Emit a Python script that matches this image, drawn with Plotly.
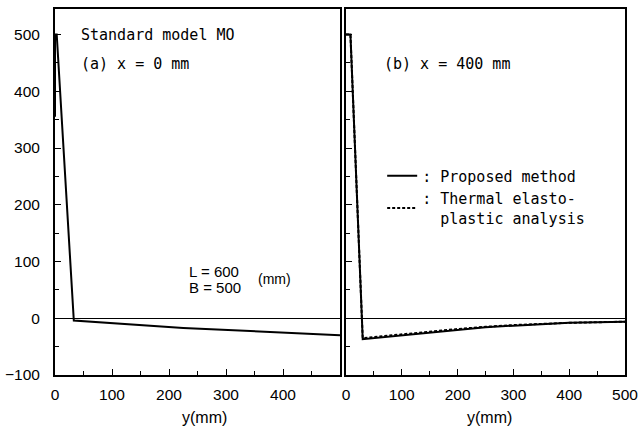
import plotly.graph_objects as go

# ---- data ----
y_a = [0, 0, 3, 33, 225, 500]
stress_a = [355, 500, 500, -4, -17, -30]

y_b = [0, 8, 30, 100, 200, 250, 300, 400, 500]
stress_b_proposed = [500, 500, -37, -30, -21, -16, -13, -8, -6]
stress_b_thermal = [500, 500, -35, -28, -19, -15, -12, -8, -6]

x_ticks_a = [0, 100, 200, 300, 400]
x_ticks_b = [0, 100, 200, 300, 400, 500]
y_ticks = [-100, 0, 100, 200, 300, 400, 500]

MONO = "DejaVu Sans Mono"
SANS = "Liberation Sans, Arial"

fig = go.Figure()
fig.add_trace(go.Scatter(x=y_a, y=stress_a, mode="lines",
                         line=dict(color="black", width=2), xaxis="x", yaxis="y",
                         showlegend=False))
fig.add_trace(go.Scatter(x=y_b, y=stress_b_proposed, mode="lines", name=": Proposed method",
                         line=dict(color="black", width=2), xaxis="x2", yaxis="y2"))
fig.add_trace(go.Scatter(x=y_b, y=stress_b_thermal, mode="lines",
                         name=": Thermal elasto-<br>  plastic analysis",
                         line=dict(color="black", width=2, dash="3px,2px"), xaxis="x2", yaxis="y2"))

minor = dict(ticks="inside", dtick=50, ticklen=4, tickcolor="black")
axis_common = dict(showgrid=False, showline=True, linecolor="black", linewidth=2,
                   mirror=True, ticks="inside", ticklen=6, tickcolor="black", automargin=False,
                   tickfont=dict(family=SANS, size=15.5, color="black"))
yrange = [-100, 545]

fig.update_layout(
    width=638, height=428,
    margin=dict(l=55, r=13, t=9, b=53),
    plot_bgcolor="white", paper_bgcolor="white",
    showlegend=True,
    legend=dict(x=0.574, y=0.589, xanchor="left", yanchor="top", bgcolor="rgba(0,0,0,0)",
                font=dict(family=MONO, size=15, color="black"), itemwidth=30,
                tracegroupgap=4),
    xaxis=dict(domain=[0, 0.5], range=[0, 500], tickvals=x_ticks_a, minor=minor,
               ticklabelstandoff=4, zeroline=False, **axis_common),
    yaxis=dict(range=yrange, tickvals=y_ticks, minor=minor,
               ticklabelstandoff=10, zeroline=True, zerolinecolor="black", zerolinewidth=1,
               **axis_common),
    xaxis2=dict(domain=[0.5105, 1.0], range=[0, 500], tickvals=x_ticks_b, anchor="y2",
                minor=minor, ticklabelstandoff=4, zeroline=False, ticklabeloverflow="allow",
                **axis_common),
    yaxis2=dict(range=yrange, tickvals=y_ticks, anchor="x2", showticklabels=False,
                minor=minor, zeroline=True, zerolinecolor="black", zerolinewidth=1,
                **axis_common),
)

tf = dict(family=MONO, size=15, color="black")
ann = [
    dict(xref="x", yref="y", x=42, y=500, text="Standard model MO"),
    dict(xref="x", yref="y", x=42, y=448, text="(a) x = 0 mm"),
    dict(xref="x2", yref="y2", x=64, y=448, text="(b) x = 400 mm"),
]
for a in ann:
    fig.add_annotation(showarrow=False, font=tf, yanchor="middle", xanchor="left", **a)

sf = dict(family=SANS, size=16, color="black")
lf = dict(family=SANS, size=15, color="black")
fig.add_annotation(xref="x", yref="y", x=232, y=83, text="L = 600", showarrow=False,
                   font=lf, xanchor="left", yanchor="middle")
fig.add_annotation(xref="x", yref="y", x=232, y=54, text="B = 500", showarrow=False,
                   font=lf, xanchor="left", yanchor="middle")
fig.add_annotation(xref="x", yref="y", x=352, y=70, text="(mm)", showarrow=False,
                   font=dict(family=SANS, size=14, color="black"), xanchor="left")
fig.add_annotation(xref="x", yref="paper", x=262, y=-0.115, text="y(mm)", showarrow=False,
                   font=sf, yanchor="middle")
fig.add_annotation(xref="x2", yref="paper", x=257, y=-0.115, text="y(mm)", showarrow=False,
                   font=sf, yanchor="middle")

fig.write_html("out.html", config={"displayModeBar": False},
               post_script="document.body.style.margin='0px';")
